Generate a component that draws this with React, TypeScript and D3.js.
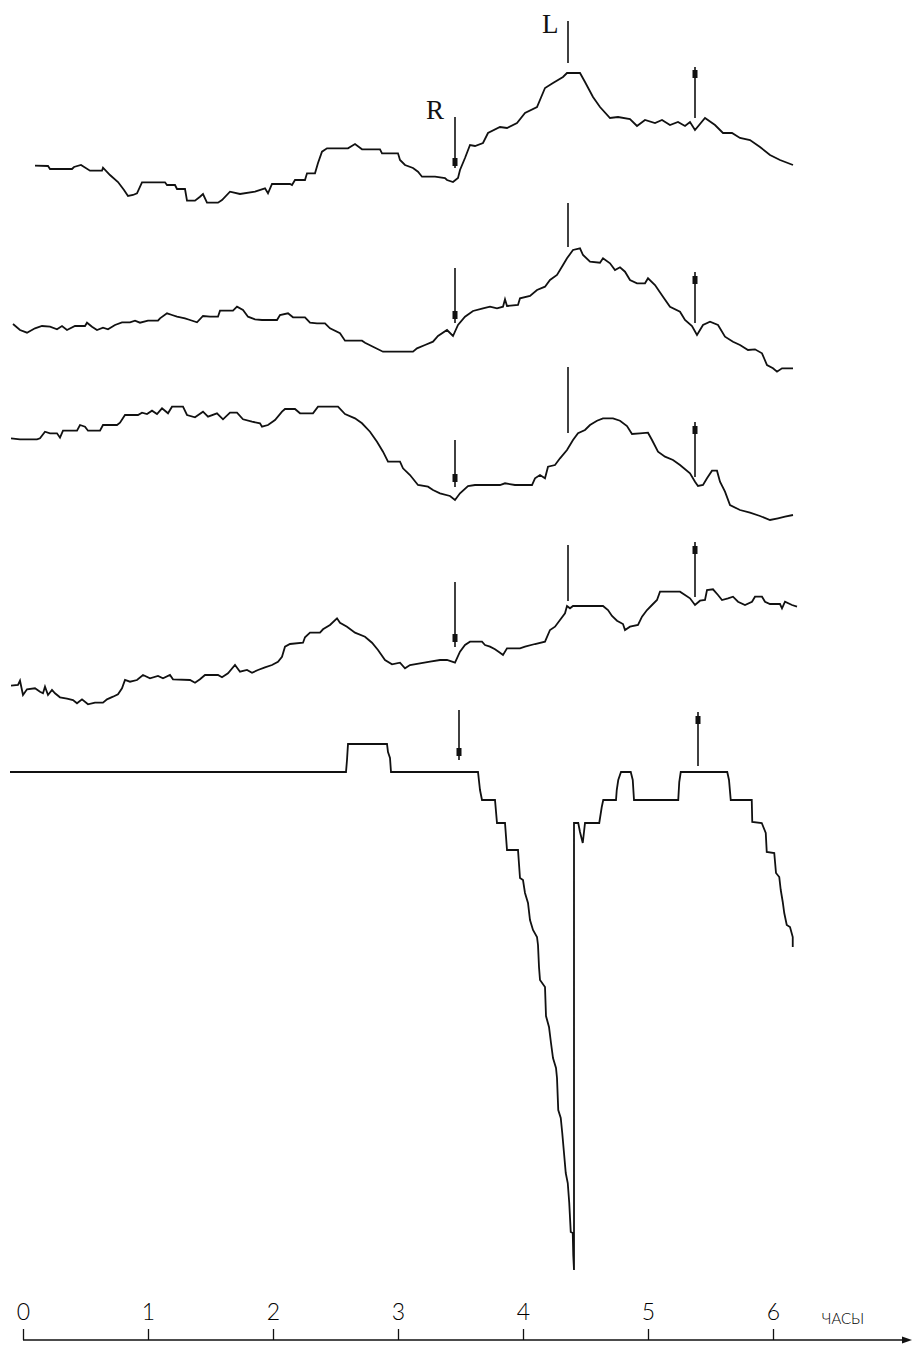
import React, { useEffect, useRef } from 'react';
import * as d3 from 'd3';

type Pt = [number, number];

// hours on the time axis
const hourTicks = [0, 1, 2, 3, 4, 5, 6];
const axisUnit = 'часы';

// five recorded traces: [hour, amplitude]
const trace1: Pt[] = [
  [0.096, 34.3], [0.2, 34], [0.216, 31], [0.392, 31], [0.408, 33], [0.464, 35], [0.536, 29.3],
  [0.632, 29.3], [0.64, 32.3], [0.696, 25], [0.76, 18], [0.808, 10], [0.84, 4], [0.88, 5],
  [0.912, 6.7], [0.952, 17.7], [1.136, 17.7], [1.152, 15], [1.216, 15], [1.232, 11], [1.296, 11],
  [1.312, -0.7], [1.376, -0.7], [1.416, 3.3], [1.44, 6], [1.472, -2.7], [1.56, -2.7], [1.592, 0],
  [1.656, 8.3], [1.736, 6], [1.856, 8.3], [1.936, 11.7], [1.96, 6.7], [1.992, 16], [2.136, 16],
  [2.152, 15], [2.176, 20], [2.256, 20], [2.272, 26.7], [2.336, 26.7], [2.36, 37], [2.392, 48.3],
  [2.432, 51.7], [2.6, 51.7], [2.656, 56], [2.712, 50.7], [2.856, 50.7], [2.872, 46.7], [3.0, 46.7],
  [3.016, 40], [3.056, 35], [3.12, 32], [3.16, 28.3], [3.192, 23.3], [3.296, 23.3], [3.376, 22],
  [3.392, 20], [3.44, 18], [3.48, 22], [3.496, 30], [3.536, 42], [3.576, 55], [3.616, 54],
  [3.68, 57], [3.72, 67], [3.816, 73], [3.872, 72], [3.952, 77], [4.016, 87], [4.112, 93],
  [4.176, 112], [4.24, 117], [4.32, 123], [4.352, 127], [4.456, 127], [4.496, 118], [4.56, 103],
  [4.616, 93], [4.696, 82], [4.76, 83], [4.856, 81], [4.912, 74], [4.976, 80], [5.056, 77],
  [5.112, 80], [5.176, 75], [5.24, 78], [5.296, 74], [5.336, 78], [5.376, 70], [5.456, 82],
  [5.536, 75], [5.6, 67], [5.672, 67], [5.736, 62], [5.816, 60], [5.896, 53], [5.976, 45],
  [6.056, 40], [6.16, 35],
];

const trace2: Pt[] = [
  [-0.08, 46], [-0.024, 40], [0.032, 37.3], [0.096, 41.7], [0.152, 44], [0.216, 43.3], [0.272, 40.7],
  [0.312, 44], [0.352, 40], [0.416, 44], [0.496, 44], [0.512, 47.3], [0.552, 43.3], [0.592, 40],
  [0.64, 42.3], [0.68, 40.7], [0.736, 45], [0.792, 47.7], [0.856, 47.7], [0.896, 49.3], [0.936, 47.3],
  [1.0, 49.3], [1.08, 49.3], [1.096, 51.7], [1.152, 56.7], [1.192, 55], [1.232, 53.3], [1.296, 51.7],
  [1.336, 50], [1.392, 47.7], [1.44, 54], [1.496, 53.3], [1.56, 53.3], [1.576, 59.3], [1.68, 59.3],
  [1.712, 63.3], [1.76, 60], [1.8, 53.3], [1.856, 50.7], [1.912, 50], [2.032, 50], [2.056, 55],
  [2.12, 56.7], [2.16, 52.7], [2.256, 52.7], [2.296, 47.3], [2.352, 46.7], [2.416, 46.7], [2.456, 41.7],
  [2.536, 36.7], [2.576, 29.3], [2.712, 29.3], [2.736, 27.3], [2.8, 23.3], [2.88, 18.3], [3.12, 18.3],
  [3.152, 21.7], [3.216, 25], [3.28, 28.3], [3.32, 34], [3.392, 40], [3.44, 34], [3.48, 45],
  [3.536, 53.3], [3.6, 59], [3.68, 61.7], [3.736, 63.3], [3.792, 61.7], [3.84, 63.3], [3.856, 70.7],
  [3.872, 64], [3.96, 65], [3.976, 71.7], [4.056, 74], [4.112, 80], [4.176, 83.3], [4.216, 90],
  [4.272, 95], [4.32, 105], [4.352, 111.7], [4.4, 120], [4.456, 121.7], [4.48, 115], [4.536, 108.3],
  [4.616, 107.3], [4.64, 111.7], [4.696, 106.7], [4.736, 100], [4.776, 102.7], [4.816, 98.3], [4.856, 90],
  [4.912, 86.7], [4.976, 86.7], [5.0, 91.7], [5.056, 85], [5.12, 73.3], [5.176, 63.3], [5.256, 58.3],
  [5.296, 50], [5.352, 44], [5.392, 35], [5.44, 45], [5.496, 48.3], [5.56, 45], [5.616, 33.3],
  [5.68, 28.3], [5.736, 25], [5.8, 20], [5.856, 20.7], [5.912, 16.7], [5.952, 5], [6.0, 1.7],
  [6.032, -1.7], [6.072, 1.7], [6.16, 1.7],
];

const trace3: Pt[] = [
  [-0.096, 81.7], [-0.024, 80.7], [0.112, 80.7], [0.136, 81.7], [0.176, 88.3], [0.216, 86.7], [0.272, 86.7],
  [0.296, 82.3], [0.32, 89.3], [0.432, 89.3], [0.456, 95], [0.496, 93.3], [0.52, 89.3], [0.616, 89.3],
  [0.64, 95], [0.752, 95], [0.776, 97.3], [0.816, 105], [0.92, 105], [0.952, 107.3], [0.992, 106],
  [1.032, 109.3], [1.072, 106], [1.112, 111.7], [1.16, 106.7], [1.192, 113.3], [1.28, 113.3], [1.312, 105],
  [1.376, 102.7], [1.44, 108.3], [1.48, 103.3], [1.552, 106.7], [1.6, 100.7], [1.656, 107.3], [1.712, 107.3],
  [1.76, 100.7], [1.832, 98.3], [1.896, 96.7], [1.912, 93.3], [1.96, 95], [2.016, 100], [2.072, 108.3],
  [2.096, 111], [2.176, 111], [2.216, 106.7], [2.32, 106.7], [2.36, 113.3], [2.52, 113.3], [2.576, 106],
  [2.656, 101.7], [2.712, 96.7], [2.776, 88.3], [2.832, 78.3], [2.88, 68.3], [2.92, 58.3], [3.016, 58.3],
  [3.04, 51.7], [3.096, 45], [3.16, 35], [3.24, 33.3], [3.28, 30], [3.336, 26.7], [3.416, 24],
  [3.456, 20], [3.496, 26.7], [3.56, 34], [3.616, 35], [3.816, 35], [3.856, 36.7], [3.936, 35],
  [4.072, 35], [4.096, 41.7], [4.136, 45], [4.176, 41.7], [4.2, 53.3], [4.256, 55], [4.296, 61.7],
  [4.352, 70], [4.4, 80], [4.44, 86.7], [4.496, 90], [4.536, 95], [4.592, 99.3], [4.64, 101.7],
  [4.72, 101.7], [4.776, 99.3], [4.832, 94], [4.872, 86], [4.936, 86.7], [5.0, 87.3], [5.032, 80],
  [5.08, 68.3], [5.136, 63.3], [5.2, 60], [5.256, 55], [5.336, 46.7], [5.376, 38.3], [5.4, 34],
  [5.44, 35], [5.472, 41.7], [5.512, 49.3], [5.552, 49.3], [5.576, 38.3], [5.616, 28.3], [5.656, 15],
  [5.736, 10], [5.816, 7.3], [5.896, 4], [5.976, 0], [6.04, 1.7], [6.096, 3.3], [6.16, 5],
];

const trace4: Pt[] = [
  [-0.096, 24.3], [-0.04, 25], [-0.024, 29.3], [0, 15], [0.032, 20.7], [0.096, 21.7], [0.136, 18.3],
  [0.16, 16.7], [0.176, 23.3], [0.2, 15], [0.232, 20], [0.256, 16.7], [0.296, 12.7], [0.352, 11.3],
  [0.4, 10], [0.432, 6.7], [0.472, 10.7], [0.52, 5.7], [0.576, 7.3], [0.64, 7.3], [0.672, 10.7],
  [0.72, 13.3], [0.76, 15.7], [0.792, 21.7], [0.816, 30], [0.856, 28.3], [0.912, 30], [0.96, 35],
  [1.016, 31.7], [1.08, 34], [1.12, 31.7], [1.176, 35], [1.2, 30.7], [1.336, 30], [1.376, 27.3],
  [1.416, 30.7], [1.456, 35], [1.56, 35], [1.592, 32.7], [1.64, 36.7], [1.696, 45], [1.736, 38.3],
  [1.792, 40], [1.832, 37.3], [1.88, 40], [1.936, 42.7], [1.992, 45], [2.04, 48.3], [2.072, 53.3],
  [2.096, 63.3], [2.136, 66], [2.24, 67.3], [2.256, 72.7], [2.296, 77.3], [2.376, 77.3], [2.4, 80.7],
  [2.456, 85], [2.512, 91.7], [2.536, 87.3], [2.592, 83.3], [2.656, 77.3], [2.736, 73.3], [2.792, 67.3],
  [2.84, 60], [2.896, 50], [2.952, 45.7], [3.016, 47.3], [3.056, 41.7], [3.096, 45], [3.176, 46.7],
  [3.256, 48.3], [3.336, 50], [3.392, 50], [3.456, 47.3], [3.496, 58.3], [3.536, 65], [3.576, 68.3],
  [3.672, 68.3], [3.696, 65], [3.736, 63.3], [3.776, 60.7], [3.816, 57.3], [3.84, 55], [3.872, 61.7],
  [3.976, 61.7], [4.016, 63.3], [4.096, 66], [4.176, 68.3], [4.216, 80], [4.256, 83.3], [4.296, 90],
  [4.336, 96.7], [4.352, 104], [4.376, 101.7], [4.4, 104], [4.64, 104], [4.68, 100], [4.712, 94],
  [4.752, 89.3], [4.8, 86], [4.816, 80], [4.856, 83.3], [4.92, 85], [4.952, 93.3], [4.992, 100],
  [5.032, 105], [5.072, 110], [5.096, 118.3], [5.256, 118.3], [5.296, 115], [5.336, 111.7], [5.376, 105],
  [5.416, 109.3], [5.456, 110], [5.472, 120], [5.52, 120.7], [5.56, 115], [5.592, 110], [5.64, 111.7],
  [5.68, 113.3], [5.72, 108.3], [5.776, 105], [5.832, 108.3], [5.856, 113.3], [5.912, 113.3], [5.936, 108.3],
  [5.976, 106], [6.056, 106], [6.072, 101.7], [6.096, 108.3], [6.152, 105], [6.192, 103.3],
];

const trace5: Pt[] = [
  [-0.104, 0], [2.584, 0], [2.592, 12], [2.6, 28], [2.912, 28], [2.92, 20], [2.936, 14], [2.944, 0],
  [3.64, 0], [3.656, -18], [3.672, -28], [3.776, -28], [3.792, -51], [3.856, -51], [3.872, -78],
  [3.96, -78], [3.976, -106], [4.0, -108], [4.016, -121], [4.04, -131], [4.056, -148], [4.08, -158],
  [4.112, -165], [4.12, -173], [4.128, -195], [4.136, -208], [4.176, -215], [4.184, -244], [4.208, -255],
  [4.224, -271], [4.24, -286], [4.264, -296], [4.272, -306], [4.282, -338], [4.302, -346], [4.314, -361],
  [4.328, -381], [4.342, -401], [4.358, -411], [4.37, -431], [4.382, -460], [4.398, -461], [4.402, -483],
  [4.408, -498], [4.408, -51], [4.442, -51], [4.456, -60], [4.478, -71], [4.488, -60], [4.496, -51],
  [4.61, -51], [4.63, -35], [4.642, -28], [4.744, -28], [4.75, -18], [4.762, -8], [4.784, 0],
  [4.862, 0], [4.878, -8], [4.888, -28], [5.242, -28], [5.25, -10], [5.262, 0], [5.634, 0],
  [5.648, -8], [5.662, -28], [5.83, -28], [5.834, -50], [5.91, -51], [5.942, -61], [5.95, -80],
  [6.01, -81], [6.024, -101], [6.05, -105], [6.062, -118], [6.078, -130], [6.09, -141], [6.11, -153],
  [6.136, -155], [6.158, -165], [6.158, -175],
];

// event times (hours) marked on each trace
const rEventHours = [3.456, 3.456, 3.456, 3.456, 3.488];
const lEventHours = [4.36, 4.36, 4.36, 4.36];
const upEventHours = [5.376, 5.376, 5.376, 5.376, 5.4];

const traces = [trace1, trace2, trace3, trace4, trace5];

// layout: zero line of each trace, and marker extents [top, bottom, square]
const baselines = [200, 370, 520, 710, 772];
const downMarks = [[83, 32, 38], [102, 47, 55], [80, 33, 42], [128, 63, 72], [62, 12, 20]];
const lMarks = [[179, 137], [167, 123], [153, 87], [165, 109]];
const upMarks = [[133, 82, 126], [98, 47, 90], [98, 43, 90], [168, 113, 160], [60, 6, 52]];

const W = 914;
const H = 1349;
const AXIS_Y = 1340;
const INK = '#111';
const THIN_FONT = 'Lato, Roboto, "DejaVu Sans", sans-serif';

const App = () => {
  const svgRef = useRef<SVGSVGElement>(null);

  useEffect(() => {
    const svg = d3.select(svgRef.current);
    svg.selectAll('*').remove();

    const x = d3.scaleLinear().domain([0, 6]).range([23, 773]);
    const amp = d3.scaleLinear().domain([0, 100]).range([0, -100]);

    const line = d3.line<Pt>()
      .x(d => x(d[0]))
      .y(d => amp(d[1]));

    traces.forEach((t, i) => {
      const g = svg.append('g').attr('transform', `translate(0,${baselines[i]})`);

      g.append('path')
        .datum(t)
        .attr('d', line)
        .attr('fill', 'none')
        .attr('stroke', INK)
        .attr('stroke-width', 1.8);

      // downward arrow
      const [dTop, dBot, dSq] = downMarks[i];
      const dx = x(rEventHours[i]);
      g.append('line')
        .attr('x1', dx).attr('x2', dx)
        .attr('y1', amp(dTop)).attr('y2', amp(dBot))
        .attr('stroke', INK).attr('stroke-width', 1.6);
      g.append('rect')
        .attr('x', dx - 2.5).attr('y', amp(dSq) - 4)
        .attr('width', 5).attr('height', 8)
        .attr('fill', INK);

      // L line
      if (i < lMarks.length) {
        const lx = x(lEventHours[i]);
        g.append('line')
          .attr('x1', lx).attr('x2', lx)
          .attr('y1', amp(lMarks[i][0])).attr('y2', amp(lMarks[i][1]))
          .attr('stroke', INK).attr('stroke-width', 1.6);
      }

      // upward arrow
      const [uTop, uBot, uSq] = upMarks[i];
      const ux = x(upEventHours[i]);
      g.append('line')
        .attr('x1', ux).attr('x2', ux)
        .attr('y1', amp(uTop)).attr('y2', amp(uBot))
        .attr('stroke', INK).attr('stroke-width', 1.6);
      g.append('rect')
        .attr('x', ux - 2.5).attr('y', amp(uSq) - 4)
        .attr('width', 5).attr('height', 8)
        .attr('fill', INK);

      if (i === 0) {
        g.append('text')
          .attr('x', dx - 29)
          .attr('y', amp(dTop) + 2)
          .attr('font-family', '"Liberation Serif", "DejaVu Serif", serif')
          .attr('font-size', 27)
          .attr('fill', INK)
          .text('R');
        g.append('text')
          .attr('x', x(lEventHours[0]) - 26)
          .attr('y', amp(lMarks[0][0]) + 12)
          .attr('font-family', '"Liberation Serif", "DejaVu Serif", serif')
          .attr('font-size', 27)
          .attr('fill', INK)
          .text('L');
      }
    });

    // time axis
    const axis = svg.append('g')
      .attr('transform', `translate(0,${AXIS_Y})`)
      .call(d3.axisTop(x)
        .tickValues(hourTicks)
        .tickSize(11)
        .tickPadding(9)
        .tickFormat(d3.format('d')));
    axis.select('.domain').remove();
    axis.selectAll('.tick line').attr('stroke', INK).attr('stroke-width', 1.3);
    axis.selectAll('.tick text')
      .attr('fill', '#000')
      .attr('font-family', THIN_FONT)
      .attr('font-weight', 300)
      .attr('font-size', 23);

    axis.append('line')
      .attr('x1', x(0)).attr('x2', 905)
      .attr('y1', 0).attr('y2', 0)
      .attr('stroke', INK).attr('stroke-width', 1.5);
    axis.append('path')
      .attr('d', 'M912,0 L902,-3.5 L902,3.5 Z')
      .attr('fill', INK);
    axis.append('text')
      .attr('x', 843)
      .attr('y', -16)
      .attr('fill', '#000')
      .attr('font-family', THIN_FONT)
      .attr('font-weight', 300)
      .attr('font-size', 22)
      .style('font-variant', 'small-caps')
      .text(axisUnit);
  }, []);

  return (
    <svg
      ref={svgRef}
      width={W}
      height={H}
      style={{ position: 'absolute', top: 0, left: 0, background: '#fff' }}
    />
  );
};

export default App;
